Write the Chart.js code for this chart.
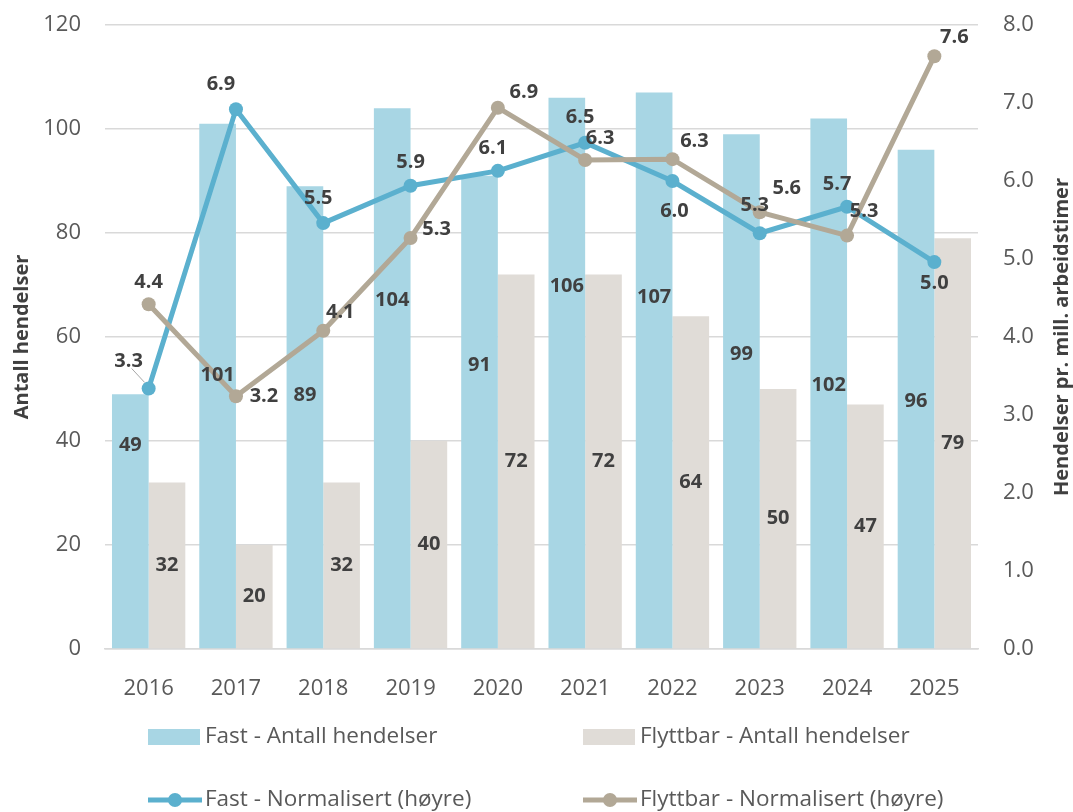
<!DOCTYPE html>
<html>
<head>
<meta charset="utf-8">
<script src="https://cdn.jsdelivr.net/npm/chart.js@4"></script>
<style>
  html, body { margin: 0; padding: 0; background: #fff; }
  #wrap { width: 1073px; height: 812px; }
</style>
</head>
<body>
<div id="wrap"><canvas id="chart"></canvas></div>
<script>
// data
const years = ['2016','2017','2018','2019','2020','2021','2022','2023','2024','2025'];
const fastCount = [49, 101, 89, 104, 91, 106, 107, 99, 102, 96];
const flyttCount = [32, 20, 32, 40, 72, 72, 64, 50, 47, 79];
const fastNorm = [3.34, 6.92, 5.46, 5.94, 6.13, 6.49, 6.0, 5.33, 5.67, 4.96];
const flyttNorm = [4.42, 3.24, 4.08, 5.27, 6.94, 6.27, 6.28, 5.6, 5.3, 7.6];
const leftTicks = [0, 20, 40, 60, 80, 100, 120];
const rightTicks = [0, 1, 2, 3, 4, 5, 6, 7, 8];

// label placement (style only)
const fastBarLabelAt = [39.2, 52.7, 48.8, 67.1, 54.6, 69.8, 67.7, 56.7, 50.8, 47.7];
const fastLineOffs = [[-20,-27],[-15,-25],[-5,-25],[0,-23],[-5,-23],[-5,-25],[2,30],[-5,-28],[-10,-22],[0,21]];
const flyttLineOffs = [[0,-22],[28,0],[17,-18],[26,-9],[26,-15],[15,-22],[22,-18],[27,-24],[17,-24],[20,-19]];

const C_BLUE_BAR = '#A8D6E4', C_GRAY_BAR = '#E0DCD7';
const C_BLUE_LINE = '#5BB0CE', C_GRAY_LINE = '#B2A896';
const FONT = "'Open Sans', 'DejaVu Sans', sans-serif";
const TXT = '#404040', TICK = '#595959';

const labelPlugin = {
  id: 'valueLabels',
  afterDatasetsDraw(chart) {
    const ctx = chart.ctx;
    ctx.save();
    ctx.font = 'bold 20px ' + FONT;
    ctx.fillStyle = TXT;
    ctx.textAlign = 'center';
    ctx.textBaseline = 'middle';
    const yScale = chart.scales.y;
    chart.data.datasets.forEach((ds, i) => {
      const meta = chart.getDatasetMeta(i);
      meta.data.forEach((el, j) => {
        const v = ds.data[j];
        if (ds.key === 'fastBar') {
          ctx.fillText(String(v), el.x, yScale.getPixelForValue(fastBarLabelAt[j]));
        } else if (ds.key === 'flyttBar') {
          ctx.fillText(String(v), el.x, (el.y + el.base) / 2);
        } else {
          const offs = ds.key === 'fastLine' ? fastLineOffs[j] : flyttLineOffs[j];
          const tx = el.x + offs[0], ty = el.y + offs[1];
          ctx.fillText(v.toFixed(1), tx, ty);
          if (ds.key === 'fastLine' && j === 0) {
            ctx.strokeStyle = '#a6a6a6';
            ctx.lineWidth = 1;
            ctx.beginPath();
            ctx.moveTo(el.x - 17, el.y - 20);
            ctx.lineTo(el.x - 4, el.y - 6);
            ctx.stroke();
          }
        }
      });
    });
    ctx.restore();
  },
  afterDraw(chart) {
    const ctx = chart.ctx;
    const area = chart.chartArea;
    const midY = (area.top + area.bottom) / 2;
    ctx.save();
    // axis titles
    ctx.font = 'bold 20px ' + FONT;
    ctx.fillStyle = TXT;
    ctx.textAlign = 'center';
    ctx.textBaseline = 'middle';
    [[22, 'Antall hendelser'], [1062, 'Hendelser pr. mill. arbeidstimer']].forEach(([x, t]) => {
      ctx.save();
      ctx.translate(x, midY);
      ctx.rotate(-Math.PI / 2);
      ctx.fillText(t, 0, 0);
      ctx.restore();
    });
    // legend
    ctx.font = '22.5px ' + FONT;
    ctx.textAlign = 'left';
    const items = [
      { x: 148, y: 737, type: 'box', color: C_BLUE_BAR, text: 'Fast - Antall hendelser' },
      { x: 583, y: 737, type: 'box', color: C_GRAY_BAR, text: 'Flyttbar - Antall hendelser' },
      { x: 148, y: 800, type: 'line', color: C_BLUE_LINE, text: 'Fast - Normalisert (høyre)' },
      { x: 583, y: 800, type: 'line', color: C_GRAY_LINE, text: 'Flyttbar - Normalisert (høyre)' }
    ];
    items.forEach(it => {
      if (it.type === 'box') {
        ctx.fillStyle = it.color;
        ctx.fillRect(it.x, it.y - 8, 52, 16);
      } else {
        ctx.strokeStyle = it.color;
        ctx.lineWidth = 5;
        ctx.beginPath();
        ctx.moveTo(it.x, it.y);
        ctx.lineTo(it.x + 54, it.y);
        ctx.stroke();
        ctx.fillStyle = it.color;
        ctx.beginPath();
        ctx.arc(it.x + 27, it.y, 7, 0, Math.PI * 2);
        ctx.fill();
      }
      ctx.fillStyle = TICK;
      ctx.fillText(it.text, it.x + 57, it.y);
    });
    ctx.restore();
  }
};

const ctx = document.getElementById('chart').getContext('2d');
const chart = new Chart(ctx, {
  type: 'bar',
  data: {
    labels: years,
    datasets: [
      {
        key: 'flyttLine', type: 'line', label: 'Flyttbar - Normalisert (høyre)',
        data: flyttNorm, yAxisID: 'y1', order: 0,
        borderColor: C_GRAY_LINE, backgroundColor: C_GRAY_LINE,
        borderWidth: 5, pointRadius: 7, pointBorderWidth: 0, tension: 0
      },
      {
        key: 'fastLine', type: 'line', label: 'Fast - Normalisert (høyre)',
        data: fastNorm, yAxisID: 'y1', order: 1,
        borderColor: C_BLUE_LINE, backgroundColor: C_BLUE_LINE,
        borderWidth: 5, pointRadius: 7, pointBorderWidth: 0, tension: 0
      },
      {
        key: 'fastBar', label: 'Fast - Antall hendelser', data: fastCount, yAxisID: 'y', order: 2,
        backgroundColor: C_BLUE_BAR, categoryPercentage: 0.84, barPercentage: 1.0
      },
      {
        key: 'flyttBar', label: 'Flyttbar - Antall hendelser', data: flyttCount, yAxisID: 'y', order: 3,
        backgroundColor: C_GRAY_BAR, categoryPercentage: 0.84, barPercentage: 1.0
      }
    ]
  },
  options: {
    responsive: true,
    maintainAspectRatio: false,
    animation: false,
    layout: { padding: { top: 25, left: 0, right: 0, bottom: 0 } },
    plugins: { legend: { display: false }, tooltip: { enabled: false } },
    scales: {
      x: {
        grid: { display: false },
        border: { display: true, color: '#d9d9d9', width: 1.5 },
        ticks: { color: TICK, font: { family: FONT, size: 22 }, padding: 19 },
        afterFit(s) { s.height = 163; }
      },
      y: {
        position: 'left',
        min: leftTicks[0], max: leftTicks[leftTicks.length - 1],
        afterBuildTicks(s) { s.ticks = leftTicks.map(v => ({ value: v })); },
        grid: { color: '#d9d9d9', lineWidth: 1.5, drawTicks: false },
        border: { display: false },
        ticks: { color: TICK, font: { family: FONT, size: 22 }, padding: 24 },
        afterFit(s) { s.width = 105; s.paddingTop = 0; s.paddingBottom = 0; }
      },
      y1: {
        position: 'right',
        min: rightTicks[0], max: rightTicks[rightTicks.length - 1],
        afterBuildTicks(s) { s.ticks = rightTicks.map(v => ({ value: v })); },
        grid: { drawOnChartArea: false, drawTicks: false },
        border: { display: false },
        ticks: { color: TICK, font: { family: FONT, size: 22 }, padding: 25,
                 callback: v => Number(v).toFixed(1) },
        afterFit(s) { s.width = 95; s.paddingTop = 0; s.paddingBottom = 0; }
      }
    }
  },
  plugins: [labelPlugin]
});
</script>
</body>
</html>
